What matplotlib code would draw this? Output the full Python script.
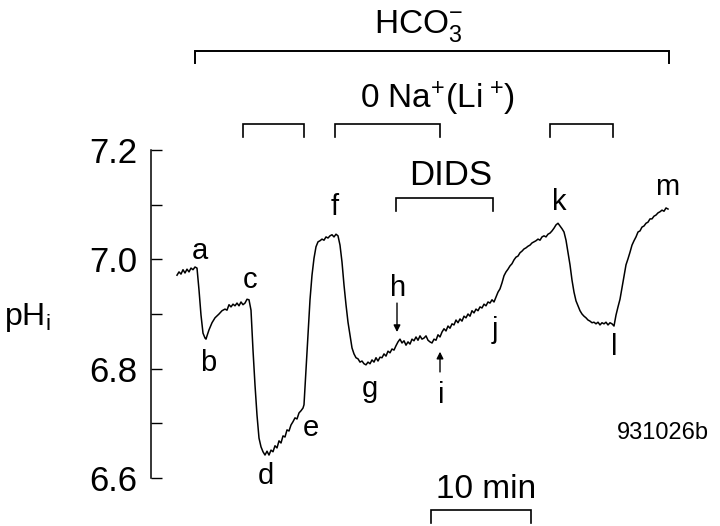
import matplotlib
matplotlib.use("Agg")
import matplotlib.pyplot as plt

plt.rcParams['font.family'] = ['Liberation Sans Narrow', 'Liberation Sans', 'DejaVu Sans']
plt.rcParams['mathtext.fontset'] = 'custom'
plt.rcParams['mathtext.rm'] = 'Liberation Sans'
plt.rcParams['mathtext.it'] = 'Liberation Sans'
plt.rcParams['mathtext.sf'] = 'Liberation Sans'

# pHi trace (time in min, pH units)
time_min = [
    0.1, 0.3, 0.5, 0.7, 0.9, 1.1, 1.3, 1.5, 1.7, 1.9, 2.1,
    2.3, 2.5, 2.7, 2.9, 3.0, 3.1,
    3.3, 3.6, 3.9, 4.3, 4.6, 4.9, 5.1, 5.3, 5.5, 5.7, 5.9, 6.1, 6.3, 6.5, 6.7, 6.9, 7.1, 7.3,
    7.5, 7.7, 7.9, 8.1, 8.3, 8.5, 8.7, 8.9, 9.1, 9.3, 9.5, 9.7, 9.9, 10.1, 10.3, 10.5,
    10.7, 10.9, 11.1, 11.3, 11.5, 11.7, 11.9, 12.1, 12.3, 12.5, 12.7, 12.8,
    13.0, 13.2, 13.4, 13.6, 13.8, 14.0, 14.2, 14.4, 14.6, 14.8, 15.0, 15.2, 15.4, 15.6, 15.8, 16.0, 16.2,
    16.4, 16.6, 16.8, 17.0, 17.2, 17.4, 17.6, 17.8, 18.0, 18.2, 18.4, 18.6, 18.8, 19.0, 19.2, 19.4,
    19.6, 19.8, 20.0, 20.2, 20.4, 20.6, 20.8, 21.0, 21.2, 21.4, 21.6, 21.8, 22.0, 22.2, 22.4, 22.6,
    22.8, 23.0, 23.2, 23.4, 23.6, 23.8, 24.0, 24.2, 24.4, 24.6, 24.8, 25.0, 25.2, 25.4, 25.6, 25.8,
    26.0, 26.2, 26.4, 26.6, 26.8, 27.0, 27.2, 27.4, 27.6, 27.8, 28.0, 28.2, 28.4, 28.6, 28.8, 29.0,
    29.2, 29.4, 29.6, 29.8, 30.0, 30.2, 30.4, 30.6, 30.8, 31.0, 31.2, 31.4, 31.6, 31.8, 32.0,
    32.2, 32.4, 32.6, 32.8, 33.0, 33.2, 33.4, 33.6, 33.8, 34.0, 34.2, 34.4, 34.6, 34.8, 35.0, 35.2,
    35.4, 35.6, 35.8, 36.0, 36.2, 36.4, 36.6, 36.8, 37.0, 37.2, 37.4, 37.6, 37.8, 38.0, 38.2, 38.4,
    38.6, 38.8,
    39.0, 39.2, 39.4, 39.6, 39.8, 40.0, 40.2, 40.4, 40.6, 40.8, 41.0, 41.2, 41.4, 41.6, 41.8, 42.0,
    42.2, 42.4, 42.6, 42.8, 43.0, 43.2, 43.4, 43.6, 43.8,
    44.0, 44.2, 44.4, 44.6, 44.8, 45.0, 45.2, 45.4, 45.6, 45.8, 46.0, 46.2, 46.4, 46.6, 46.8, 47.0,
    47.2, 47.4, 47.6, 47.8, 48.0, 48.2, 48.4, 48.6, 48.8, 49.0, 49.2,
]
ph = [
    6.971, 6.977, 6.973, 6.981, 6.975, 6.982, 6.977, 6.984, 6.981, 6.986, 6.984,
    6.944, 6.898, 6.865, 6.856, 6.854, 6.860,
    6.871, 6.884, 6.893, 6.900, 6.906, 6.909, 6.907, 6.917, 6.913, 6.918, 6.915, 6.920, 6.915, 6.922, 6.917, 6.920, 6.927, 6.926,
    6.907, 6.834, 6.770, 6.715, 6.673, 6.657, 6.648, 6.642, 6.649, 6.642, 6.651, 6.648, 6.659, 6.655, 6.668, 6.664,
    6.677, 6.675, 6.688, 6.686, 6.697, 6.703, 6.710, 6.708, 6.719, 6.723, 6.728, 6.734,
    6.798, 6.862, 6.926, 6.971, 7.002, 7.023, 7.032, 7.034, 7.037, 7.035, 7.041, 7.039, 7.043, 7.045, 7.041, 7.046, 7.043,
    7.026, 6.995, 6.953, 6.917, 6.885, 6.862, 6.838, 6.827, 6.820, 6.818, 6.812, 6.814, 6.809, 6.807, 6.812, 6.809,
    6.816, 6.812, 6.820, 6.814, 6.821, 6.820, 6.827, 6.823, 6.832, 6.829, 6.836, 6.834, 6.842, 6.849, 6.854, 6.847,
    6.851, 6.843, 6.849, 6.845, 6.854, 6.851, 6.858, 6.852, 6.860, 6.854, 6.856, 6.860, 6.852, 6.849, 6.847, 6.854,
    6.852, 6.862, 6.858, 6.867, 6.873, 6.869, 6.878, 6.874, 6.882, 6.880, 6.889, 6.884, 6.891, 6.887, 6.896, 6.893,
    6.900, 6.896, 6.906, 6.902, 6.909, 6.906, 6.913, 6.911, 6.918, 6.915, 6.922, 6.920, 6.926, 6.922, 6.931,
    6.940, 6.946, 6.957, 6.970, 6.977, 6.982, 6.988, 6.992, 6.999, 7.004, 7.006, 7.012, 7.015, 7.019, 7.021, 7.024,
    7.026, 7.030, 7.032, 7.034, 7.037, 7.035, 7.041, 7.043, 7.041, 7.046, 7.048, 7.052, 7.057, 7.063, 7.066, 7.061,
    7.056, 7.050,
    7.035, 7.013, 6.990, 6.962, 6.940, 6.924, 6.915, 6.906, 6.900, 6.896, 6.893, 6.889, 6.887, 6.884, 6.885, 6.882,
    6.885, 6.880, 6.884, 6.882, 6.885, 6.880, 6.884, 6.882, 6.878,
    6.898, 6.913, 6.927, 6.948, 6.970, 6.990, 7.001, 7.013, 7.026, 7.034, 7.041, 7.050, 7.052, 7.059, 7.061, 7.066,
    7.068, 7.074, 7.074, 7.079, 7.081, 7.085, 7.087, 7.090, 7.088, 7.094, 7.092,
]

# point labels
point_names = list("abcdefghijklm")
point_t = [2.35, 3.2, 7.4, 9.0, 13.5, 15.9, 19.4, 22.2, 26.5, 31.9, 38.3, 43.8, 49.1]
point_ph = [7.015, 6.810, 6.962, 6.604, 6.691, 7.096, 6.763, 6.948, 6.752, 6.871, 7.105, 6.840, 7.132]

# solution periods (start, end in min)
hco3_period = (1.9, 49.3)
na_free_periods = [(6.7, 12.8), (15.9, 26.4), (37.4, 43.7)]
dids_period = (22.0, 31.7)
yticks = [6.6, 6.8, 7.0, 7.2]

fig = plt.figure(figsize=(7.2, 5.26), dpi=100)
ax = fig.add_axes([0, 0, 1, 1])
ax.set_xlim(-17.6, 54.4)
ax.set_ylim(6.5122, 7.4744)

ax.plot(time_min, ph, color='black', lw=1.1)

# axis: left spine only, inward ticks
for s in ['top', 'right', 'bottom']:
    ax.spines[s].set_visible(False)
ax.spines['left'].set_position(('data', -2.5))
ax.spines['left'].set_bounds(6.6, 7.2)
ax.spines['left'].set_linewidth(1.1)
ax.set_xticks([])
ax.set_yticks(yticks)
ax.set_yticklabels([f"{v:.1f}" for v in yticks])
ax.set_yticks([6.7, 6.9, 7.1], minor=True)
ax.tick_params(axis='y', which='both', direction='in', length=8, width=1.0,
               labelsize=25, pad=10)
ax.text(-14.9, 6.893, r'pH$_\mathregular{i}$', fontsize=23, ha='center', va='center')


def bracket(t0, t1, top, leg, lw=1.2):
    ax.plot([t0, t0, t1, t1], [leg, top, top, leg], color='black', lw=lw,
            clip_on=False, solid_joinstyle='miter')


bracket(hco3_period[0], hco3_period[1], 7.381, 7.359, lw=1.4)
for t0, t1 in na_free_periods:
    bracket(t0, t1, 7.2476, 7.2238)
bracket(dids_period[0], dids_period[1], 7.112, 7.0884)
bracket(25.5, 35.5, 6.5415, 6.5177)  # 10 min scale bar

ax.text(24.2, 7.414, r'HCO$_\mathregular{3}^{\mathregular{-}}$', fontsize=24,
        ha='center', va='baseline')
ax.text(26.15, 7.2768, r'0 Na$^\mathregular{+}$(Li$^{\ \mathregular{+}}$)', fontsize=24,
        ha='center', va='baseline')
ax.text(27.5, 7.136, 'DIDS', fontsize=25, ha='center', va='baseline')
ax.text(31.0, 6.5635, '10 min', fontsize=24, ha='center', va='baseline')
ax.text(48.7, 6.682, '931026b', fontsize=17, ha='center', va='center')

for name, t, p in zip(point_names, point_t, point_ph):
    ax.text(t, p, name, fontsize=21, ha='center', va='center')

arrow = dict(arrowstyle='-|>', color='black', lw=1.0, mutation_scale=10,
             shrinkA=0, shrinkB=0)
ax.annotate('', xy=(22.1, 6.867), xytext=(22.1, 6.920), arrowprops=arrow)
ax.annotate('', xy=(26.4, 6.831), xytext=(26.4, 6.794), arrowprops=arrow)

fig.savefig('out.png', dpi=100)
